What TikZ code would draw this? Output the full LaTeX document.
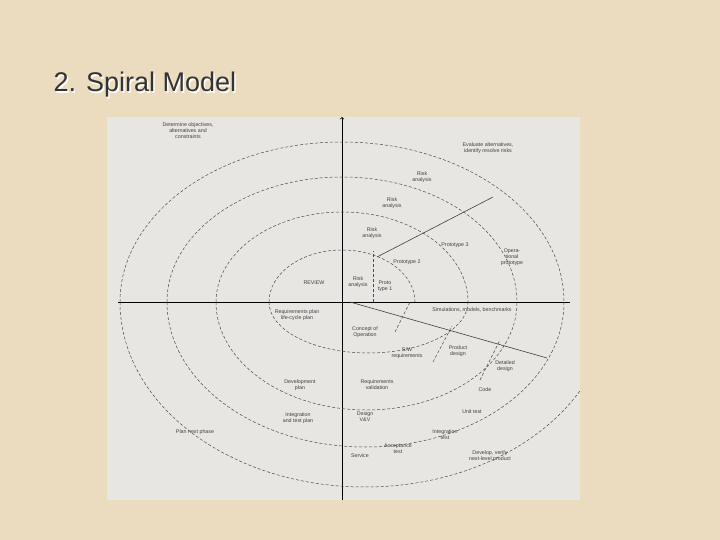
\documentclass[tikz,border=0pt]{standalone}
\usepackage{fontspec}
\setmainfont{Liberation Sans}
\begin{document}
\begin{tikzpicture}[x=1pt,y=-1pt,
  lab/.style={font=\fontsize{5.3}{5.9}\selectfont,align=center,text=black!75,inner sep=0.5pt},
  arcl/.style={densely dashed,black!70,line width=0.5pt},
  ax/.style={black,line width=0.9pt}]
\fill[fill={rgb,255:red,235;green,220;blue,192}] (0,0) rectangle (720,540);
\useasboundingbox (0,0) rectangle (720,540);
\fill[fill={rgb,255:red,232;green,230;blue,226}] (107,117) rectangle (580,500);
\node[font=\fontsize{27}{30}\selectfont,text=white,anchor=west] (tsh) at (51.5,86.5) {2. Spiral Model};
\node[font=\fontsize{27}{30}\selectfont,text=black!80,anchor=west] (title) at (50,85) {2. Spiral Model};
\begin{scope}
\clip (107,117) rectangle (580,500);
% axes
\coordinate (c) at (342,302);
\coordinate (w) at (118,302); \coordinate (e) at (570,302);
\coordinate (n) at (342,117); \coordinate (s) at (342,500);
\draw[ax] (w) -- (e);
\draw[ax,->,line width=0.7pt] (s) -- (n);
% upper half ellipses
\foreach \a/\b in {73/52,126/90,175/125,222/160}
  \draw[arcl] (342-\a,302) arc[start angle=180,end angle=0,x radius=\a,y radius=-\b];
% lower half ellipses (spiral continuation)
\foreach \l/\r/\b in {73/126/51,126/175/108,175/222/145,222/268/185}
  \draw[arcl] (342-\l,302) arc[start angle=180,end angle=360,x radius={(\l+\r)/2},y radius=-\b];
% radial lines
\coordinate (r1) at (377,257); \coordinate (r2) at (493,197);
\draw[black!75,line width=0.6pt] (r1) -- (r2);
\coordinate (r3) at (350,302); \coordinate (r4) at (547,358);
\draw[black!75,line width=0.6pt] (r3) -- (r4);
\coordinate (p1) at (373,302); \coordinate (p2) at (373,251);
\draw[arcl] (p1) -- (p2);
\coordinate (q1) at (395,332); \coordinate (q2) at (410,302);
\draw[arcl] (q1) -- (q2);
\coordinate (q3) at (433,362); \coordinate (q4) at (452,326);
\draw[arcl] (q3) -- (q4);
\coordinate (q5) at (480,380); \coordinate (q6) at (500,340);
\draw[arcl] (q5) -- (q6);
\end{scope}
% labels
\node[lab] (l1) at (188,131) {Determine objectives,\\alternatives and\\constraints};
\node[lab] (l2) at (488,148) {Evaluate alternatives,\\identify resolve risks};
\node[lab] (l3) at (422,177) {Risk\\analysis};
\node[lab] (l4) at (392,203) {Risk\\analysis};
\node[lab] (l5) at (372,233) {Risk\\analysis};
\node[lab] (l6) at (358,282) {Risk\\analysis};
\node[lab] (l7) at (407,262) {Prototype 2};
\node[lab] (l8) at (455,245) {Prototype 3};
\node[lab] (l9) at (512,257) {Opera-\\tional\\prototype};
\node[lab] (l10) at (385,286) {Proto\\type 1};
\node[lab] (l11) at (314,283) {REVIEW};
\node[lab] (l12) at (297,315) {Requirements plan\\life-cycle plan};
\node[lab] (l13) at (472,310) {Simulations, models, benchmarks};
\node[lab] (l14) at (365,332) {Concept of\\Operation};
\node[lab] (l15) at (407,353) {S/W\\requirements};
\node[lab] (l16) at (458,351) {Product\\design};
\node[lab] (l17) at (505,366) {Detailed\\design};
\node[lab] (l18) at (300,385) {Development\\plan};
\node[lab] (l19) at (377,385) {Requirements\\validation};
\node[lab] (l20) at (485,390) {Code};
\node[lab] (l21) at (472,412) {Unit test};
\node[lab] (l22) at (365,417) {Design\\V\&V};
\node[lab] (l23) at (298,418) {Integration\\and test plan};
\node[lab] (l24) at (445,435) {Integration\\test};
\node[lab] (l25) at (195,432) {Plan next phase};
\node[lab] (l26) at (398,449) {Acceptance\\test};
\node[lab] (l27) at (360,456) {Service};
\node[lab] (l28) at (490,456) {Develop, verify\\next-level product};
\end{tikzpicture}
\end{document}
